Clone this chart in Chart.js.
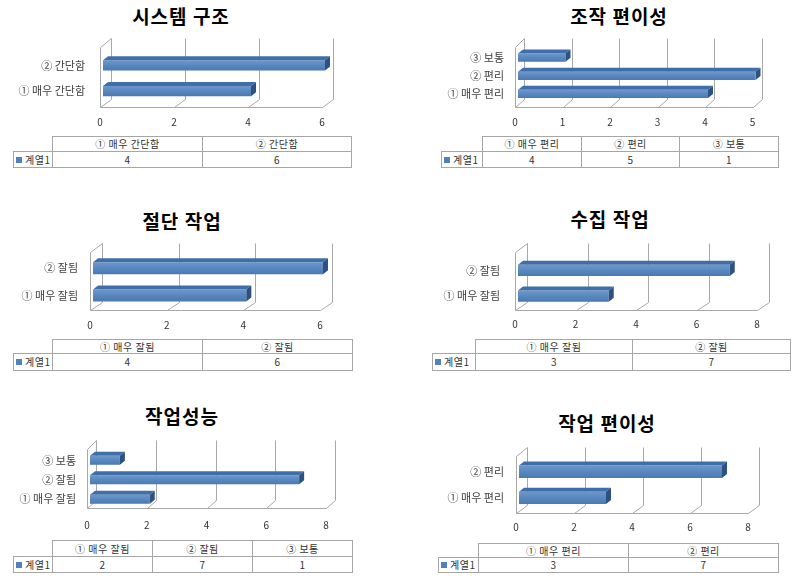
<!DOCTYPE html>
<html><head><meta charset="utf-8">
<script src="https://cdn.jsdelivr.net/npm/chart.js@4/dist/chart.umd.min.js"></script>
<style>
html,body{margin:0;padding:0;background:#fff;}
body{width:797px;height:579px;position:relative;overflow:hidden;font-family:'Noto Sans CJK KR','Noto Sans',sans-serif;}
.title{position:absolute;font-weight:bold;font-size:19px;letter-spacing:1px;color:#000;white-space:nowrap;transform:translate(-50%,-50%);line-height:1;}
canvas{position:absolute;}
.cell{position:absolute;box-sizing:border-box;border:1px solid #a6a6a6;font-size:10px;color:#333;text-align:center;white-space:nowrap;letter-spacing:0.5px;}
.sq{display:inline-block;width:6px;height:6px;background:#4F81BD;margin-right:3px;vertical-align:middle;position:relative;top:-1px;}
</style></head>
<body>
<script>
// ---- data ----
const titles = ['시스템 구조', '조작 편이성', '절단 작업', '수집 작업', '작업성능', '작업 편이성'];
const seriesName = '계열1';
const cats1 = ['① 매우 간단함', '② 간단함'];      const vals1 = [4, 6];
const cats2 = ['① 매우 편리', '② 편리', '③ 보통']; const vals2 = [4, 5, 1];
const cats3 = ['① 매우 잘됨', '② 잘됨'];          const vals3 = [4, 6];
const cats4 = ['① 매우 잘됨', '② 잘됨'];          const vals4 = [3, 7];
const cats5 = ['① 매우 잘됨', '② 잘됨', '③ 보통']; const vals5 = [2, 7, 1];
const cats6 = ['① 매우 편리', '② 편리'];          const vals6 = [3, 7];
const axisMax  = [6, 5, 6, 8, 8, 8];
const axisStep = [2, 1, 2, 2, 2, 2];
const allCats = [cats1, cats2, cats3, cats4, cats5, cats6];
const allVals = [vals1, vals2, vals3, vals4, vals5, vals6];

// ---- layout ----
const L = [
 {px:0,  pw:398, title:[181,15],  c:{l:103,r:325,t:44,b:104},  wall:{top:38,floor:107,dx:11}, ticksY:122, bar:12, labPad:18, table:{top:136,mid:151,bot:168,rl:13, cols:[52,202,351]}},
 {px:400,pw:397, title:[619,15],  c:{l:518,r:755.5,t:43,b:103},wall:{top:38,floor:107,dx:9},  ticksY:122, bar:9,  labPad:14, table:{top:136,mid:151,bot:168,rl:441,cols:[482,581,679,778]}},
 {px:0,  pw:398, title:[182,220], c:{l:93,r:323,t:250,b:309},  wall:{top:243,floor:310,dx:12},ticksY:325, bar:13, labPad:15, table:{top:339,mid:353,bot:371,rl:13, cols:[52,202,352]}},
 {px:400,pw:397, title:[610,218], c:{l:518,r:760,t:250,b:309}, wall:{top:243,floor:310,dx:12},ticksY:324, bar:13, labPad:18, table:{top:339,mid:353,bot:371,rl:432,cols:[475,632,790]}},
 {px:0,  pw:398, title:[182,415], c:{l:90,r:329,t:444,b:509},  wall:{top:440,floor:508,dx:9}, ticksY:525, bar:10, labPad:14, table:{top:540,mid:556,bot:573,rl:13, cols:[52,152,252,352]}},
 {px:400,pw:397, title:[607,422], c:{l:519,r:751,t:452,b:511}, wall:{top:447,floor:513,dx:11},ticksY:527, bar:14, labPad:15, table:{top:543,mid:557,bot:573,rl:438,cols:[478,628,778]}}
];

const FONT = "'Noto Sans CJK KR','Noto Sans',sans-serif";
Chart.defaults.font.family = FONT;

const wall3d = {
  id: 'wall3d',
  beforeDatasetsDraw(chart, args, o) {
    const ctx = chart.ctx, xs = chart.scales.x;
    const dy = 8, sh = -3;
    const fx = v => Math.round(xs.getPixelForValue(v) + sh) + 0.5;
    const top = o.top - o.canvasTop + 0.5, floor = o.floor - o.canvasTop + 0.5;
    ctx.save();
    ctx.strokeStyle = '#a8a8a8'; ctx.lineWidth = 1;
    ctx.beginPath();
    const fl = fx(0);
    ctx.moveTo(fl, floor); ctx.lineTo(fl, top + dy + 1); ctx.lineTo(fl + o.dx, top);
    ctx.lineTo(fl + o.dx, floor - dy);
    ctx.moveTo(fl, floor); ctx.lineTo(fx(xs.max), floor);
    xs.ticks.forEach(t => {
      const f = fx(t.value), b = f + o.dx;
      ctx.moveTo(f, floor); ctx.lineTo(b, floor - dy);
      if (t.value !== 0) ctx.lineTo(b, top);
    });
    ctx.stroke();
    ctx.restore();
  }
};
const bar3d = {
  id: 'bar3d',
  afterDatasetsDraw(chart) {
    const ctx = chart.ctx, ddx = 5, ddy = 4;
    chart.getDatasetMeta(0).data.forEach(el => {
      const p = el.getProps(['x','y','base','height'], true);
      const t = p.y - p.height/2, b = p.y + p.height/2;
      ctx.save();
      ctx.fillStyle = '#3F6EA8';
      ctx.beginPath();
      ctx.moveTo(p.base, t); ctx.lineTo(p.x, t); ctx.lineTo(p.x + ddx, t - ddy); ctx.lineTo(p.base + ddx, t - ddy); ctx.closePath(); ctx.fill();
      ctx.fillStyle = '#2D5180';
      ctx.beginPath();
      ctx.moveTo(p.x, t); ctx.lineTo(p.x + ddx, t - ddy); ctx.lineTo(p.x + ddx, b - ddy); ctx.lineTo(p.x, b); ctx.closePath(); ctx.fill();
      const g = ctx.createLinearGradient(0, t, 0, b);
      g.addColorStop(0, 'rgba(255,255,255,0.18)');
      g.addColorStop(0.5, 'rgba(255,255,255,0.05)');
      g.addColorStop(1, 'rgba(0,0,0,0.06)');
      ctx.fillStyle = g; ctx.fillRect(p.base, t, p.x - p.base, b - t);
      ctx.restore();
    });
  }
};

function addDiv(cls, x, y, w, h, html, extra) {
  const d = document.createElement('div');
  d.className = cls;
  d.style.left = x + 'px'; d.style.top = y + 'px';
  if (w != null) d.style.width = w + 'px';
  if (h != null) { d.style.height = h + 'px'; d.style.lineHeight = (h - 2) + 'px'; }
  d.innerHTML = html;
  if (extra) Object.assign(d.style, extra);
  document.body.appendChild(d);
  return d;
}

L.forEach((g, i) => {
  const cats = allCats[i], vals = allVals[i];
  addDiv('title', g.title[0], g.title[1], null, null, titles[i]);
  const cTop = g.wall.top - 10, cBot = g.ticksY + 10;
  const cv = document.createElement('canvas');
  cv.width = g.pw; cv.height = cBot - cTop;
  cv.style.left = g.px + 'px'; cv.style.top = cTop + 'px';
  cv.style.width = g.pw + 'px'; cv.style.height = (cBot - cTop) + 'px';
  document.body.appendChild(cv);
  const step = (g.c.b - g.c.t) / cats.length;
  new Chart(cv, {
    type: 'bar',
    data: { labels: cats, datasets: [{ label: seriesName, data: vals, backgroundColor: '#4F81BD', borderWidth: 0,
      categoryPercentage: 1, barPercentage: g.bar / step }] },
    options: {
      indexAxis: 'y', responsive: false, animation: false,
      layout: { padding: { left: 0, right: g.px + g.pw - g.c.r, top: g.c.t - cTop, bottom: 0 } },
      plugins: { legend: { display: false }, tooltip: { enabled: false }, title: { display: false },
        wall3d: { top: g.wall.top, floor: g.wall.floor, dx: g.wall.dx, canvasTop: cTop } },
      scales: {
        y: { type: 'category', reverse: true, grid: { display: false, drawTicks: false }, border: { display: false },
             ticks: { font: { size: 11 }, color: '#404040', padding: g.labPad },
             afterFit: s => { s.width = g.c.l - g.px; } },
        x: { type: 'linear', min: 0, max: axisMax[i], grid: { display: false, drawTicks: false }, border: { display: false },
             ticks: { stepSize: axisStep[i], font: { size: 10 }, color: '#333', padding: g.ticksY - g.c.b - 6, labelOffset: -3, maxRotation: 0, autoSkip: false },
             afterFit: s => { s.height = cBot - g.c.b; } }
      }
    },
    plugins: [wall3d, bar3d]
  });
  const T = g.table, hh = T.mid - T.top + 1, rh = T.bot - T.mid;
  cats.forEach((c, k) => {
    addDiv('cell', T.cols[k], T.top, T.cols[k+1] - T.cols[k] + 1, hh, c);
    addDiv('cell', T.cols[k], T.mid, T.cols[k+1] - T.cols[k] + 1, rh, String(vals[k]));
  });
  addDiv('cell', T.rl, T.mid, T.cols[0] - T.rl + 1, rh, '<span class="sq"></span>' + seriesName, { textAlign: 'left', paddingLeft: '2px' });
});
</script>
</body></html>
